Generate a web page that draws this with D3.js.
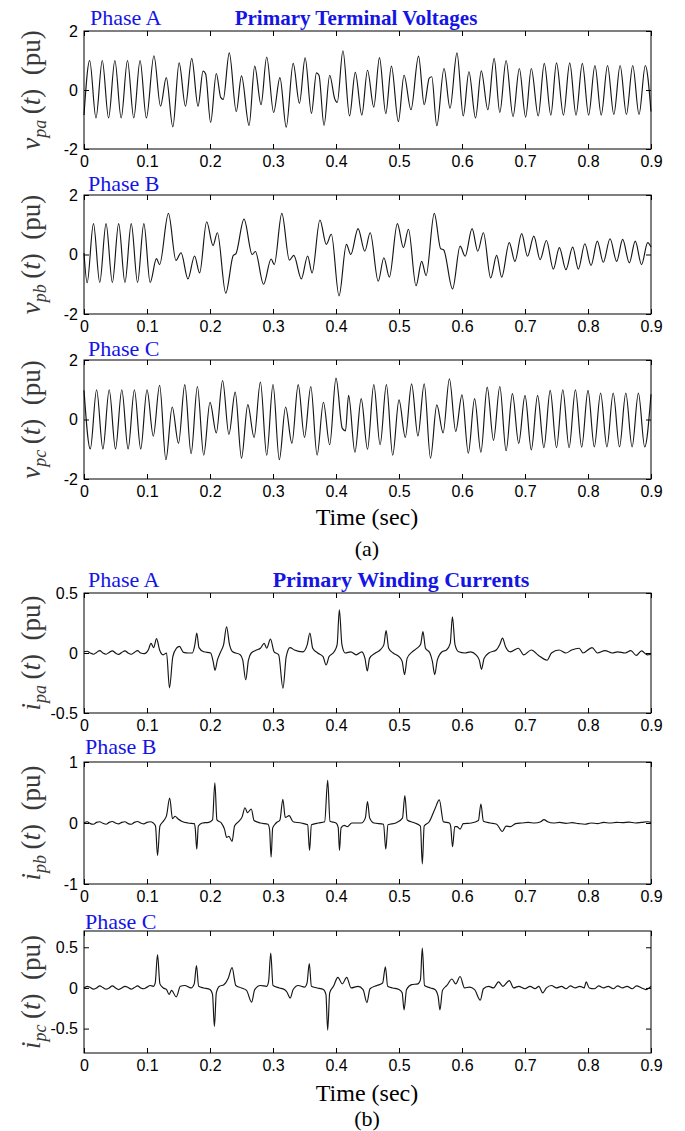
<!DOCTYPE html>
<html>
<head>
<meta charset="utf-8">
<script src="https://cdn.jsdelivr.net/npm/d3@7"></script>
<style>
  body { margin: 0; background: #fff; }
  svg { display: block; }
</style>
</head>
<body>
<svg id="fig" width="685" height="1131"></svg>
<script>
// ---- time axis ----
const timeTicks = [0, 0.1, 0.2, 0.3, 0.4, 0.5, 0.6, 0.7, 0.8, 0.9];
const timeTickLabels = ["0", "0.1", "0.2", "0.3", "0.4", "0.5", "0.6", "0.7", "0.8", "0.9"];

// ---- primary terminal voltages (pu): waveform turning points ----
const vpaTime = [0, 0.009, 0.019, 0.029, 0.039, 0.049, 0.059, 0.069, 0.079, 0.089, 0.099,
  0.111, 0.1215, 0.1306, 0.141, 0.151, 0.161, 0.171, 0.181, 0.189, 0.193, 0.201, 0.210, 0.217, 0.221,
  0.2306, 0.2417, 0.250, 0.262, 0.271, 0.281, 0.290, 0.301, 0.311, 0.321, 0.332, 0.342, 0.351, 0.361,
  0.369, 0.373, 0.381, 0.390, 0.398, 0.402, 0.411, 0.4215, 0.4306, 0.441, 0.450, 0.460, 0.469, 0.479,
  0.488, 0.499, 0.508, 0.519, 0.531, 0.540, 0.548, 0.552, 0.560, 0.5715, 0.581, 0.592, 0.602, 0.611,
  0.6215, 0.6306, 0.641, 0.651, 0.660, 0.670, 0.681, 0.691, 0.701, 0.710, 0.721, 0.7306, 0.741, 0.750,
  0.761, 0.771, 0.781, 0.791, 0.801, 0.811, 0.821, 0.831, 0.841, 0.851, 0.861, 0.871, 0.881, 0.891, 0.9];
const vpaValue = [-0.85, 1.0, -0.95, 1.0, -0.95, 1.0, -0.95, 1.0, -0.95, 1.0, -0.95,
  1.16, -0.55, 0.42, -1.25, 0.92, -0.55, 1.07, -0.55, 0.64, 0.55, -1.1, 0.56, -0.25, -0.32,
  1.26, -0.73, 0.48, -1.2, 0.81, -0.5, 1.12, -0.76, 0.42, -1.26, 0.9, -0.45, 1.09, -0.79,
  0.58, 0.5, -1.2, 0.5, -0.3, -0.42, 1.33, -0.88, 0.6, -0.85, 0.67, -0.58, 1.1, -0.8,
  0.81, -1.07, 0.5, -0.67, 1.15, -0.5, 0.4, 0.45, -1.21, 0.73, -0.62, 1.26, -0.88, 0.62,
  -0.95, 0.65, -0.67, 1.07, -0.76, 1.0, -0.9, 0.73, -0.92, 0.73, -0.88, 0.9, -0.85, 0.92,
  -0.85, 0.92, -0.85, 0.9, -0.85, 0.83, -0.85, 0.83, -0.83, 0.83, -0.83, 0.83, -0.83, 0.83, -0.73];

const vpbTime = [0, 0.005, 0.015, 0.025, 0.035, 0.045, 0.055, 0.065, 0.075, 0.085, 0.095, 0.105,
  0.115, 0.120, 0.134, 0.146, 0.154, 0.165, 0.1755, 0.1835, 0.1947, 0.2048, 0.2117, 0.225, 0.237, 0.241,
  0.254, 0.267, 0.272, 0.285, 0.297, 0.302, 0.314, 0.326, 0.333, 0.345, 0.355, 0.362, 0.3745, 0.3846,
  0.3926, 0.4048, 0.4165, 0.4234, 0.435, 0.4457, 0.4543, 0.467, 0.476, 0.4847, 0.4974, 0.507, 0.515,
  0.527, 0.536, 0.543, 0.556, 0.566, 0.571, 0.585, 0.597, 0.605, 0.616, 0.625, 0.634, 0.6455, 0.655,
  0.663, 0.675, 0.684, 0.6947, 0.704, 0.714, 0.724, 0.734, 0.745, 0.7545, 0.765, 0.7757, 0.7847, 0.795,
  0.8048, 0.8148, 0.8243, 0.835, 0.8455, 0.855, 0.8656, 0.875, 0.885, 0.8947, 0.9];
const vpbValue = [0.05, -0.95, 1.04, -0.94, 1.04, -0.94, 1.04, -0.94, 1.04, -0.94, 1.04, -0.94,
  -0.14, -0.34, 1.38, -0.2, 0.06, -0.82, -0.05, -0.62, 1.1, 0.3, 0.73, -1.3, -0.03, 0.02,
  1.19, 0.0, 0.1, -1.0, -0.15, -0.34, 1.38, -0.19, -0.03, -0.82, -0.05, -0.62, 1.16, 0.34,
  0.68, -1.39, 0.34, 0.0, 0.87, 0.11, 0.73, -0.9, -0.11, -0.76, 1.04, 0.23, 0.85,
  -1.05, -0.23, -0.71, 1.38, 0.2, 0.15, -1.16, 0.28, -0.06, 0.87, 0.11, 0.73, -0.79, -0.03,
  -0.76, 0.4, -0.23, 0.7, -0.06, 0.62, -0.17, 0.47, -0.49, 0.23, -0.51, 0.25, -0.49, 0.36,
  -0.37, 0.45, -0.26, 0.53, -0.23, 0.51, -0.28, 0.45, -0.34, 0.4, 0.25];

const vpcTime = [0, 0.01, 0.02, 0.03, 0.04, 0.05, 0.06, 0.07, 0.08, 0.09, 0.10, 0.11, 0.12, 0.13,
  0.14, 0.15, 0.16, 0.17, 0.18, 0.19, 0.20, 0.21, 0.22, 0.23, 0.24, 0.25, 0.26, 0.27, 0.28, 0.29,
  0.30, 0.31, 0.32, 0.33, 0.34, 0.35, 0.36, 0.37, 0.38, 0.39, 0.40, 0.41, 0.415, 0.42, 0.43, 0.44,
  0.45, 0.46, 0.47, 0.48, 0.49, 0.50, 0.51, 0.52, 0.53, 0.54, 0.55, 0.56, 0.57, 0.58, 0.59, 0.60,
  0.61, 0.62, 0.63, 0.64, 0.65, 0.66, 0.67, 0.68, 0.69, 0.70, 0.71, 0.72, 0.73, 0.74, 0.75, 0.76,
  0.77, 0.78, 0.79, 0.80, 0.81, 0.82, 0.83, 0.84, 0.85, 0.86, 0.87, 0.88, 0.89, 0.9];
const vpcValue = [0.98, -0.99, 1.0, -0.99, 1.0, -0.99, 1.0, -0.99, 1.0, -0.99, 1.0, -0.56, 1.15, -1.35,
  0.42, -0.8, 1.17, -1.15, 1.11, -1.2, 0.58, -0.45, 1.31, -0.5, 0.92, -1.3, 0.5, -0.6, 1.26, -1.2,
  1.17, -1.35, 0.42, -0.8, 1.17, -0.6, 1.11, -1.2, 0.58, -0.85, 1.39, -0.3, -0.38, 0.81, -1.1, 0.7,
  -1.0, 1.17, -0.85, 1.17, -1.2, 0.66, -0.6, 1.2, -0.55, 1.2, -1.3, 0.49, -0.45, 1.37, -0.4, 0.83,
  -1.13, 0.7, -1.1, 1.09, -0.7, 1.11, -1.05, 0.87, -0.8, 0.81, -1.02, 0.81, -0.95, 0.98, -0.95, 1.0,
  -0.95, 1.0, -0.93, 0.98, -0.92, 0.89, -0.92, 0.89, -0.92, 0.89, -0.92, 0.89, -0.92, 0.85];

// ---- primary winding currents (pu) ----
const ipaTime = [0, 0.005, 0.01, 0.015, 0.02, 0.025, 0.03, 0.035, 0.04, 0.045, 0.05, 0.055, 0.06, 0.065,
  0.07, 0.075, 0.08, 0.085, 0.09, 0.096, 0.102, 0.1064, 0.1105, 0.1152, 0.12, 0.1257, 0.131, 0.1357,
  0.141, 0.1468, 0.1515, 0.158, 0.166, 0.172, 0.176, 0.179, 0.1825, 0.19, 0.201, 0.205, 0.208, 0.2117,
  0.217, 0.2216, 0.2263, 0.231, 0.236, 0.248, 0.252, 0.2567, 0.261, 0.2655, 0.274, 0.28, 0.286, 0.29,
  0.296, 0.3018, 0.309, 0.3158, 0.321, 0.327, 0.334, 0.3474, 0.3544, 0.3585, 0.363, 0.371, 0.3795,
  0.3842, 0.389, 0.397, 0.4018, 0.4053, 0.4094, 0.4146, 0.4234, 0.432, 0.441, 0.446, 0.4497, 0.4532,
  0.4626, 0.47, 0.476, 0.4795, 0.4836, 0.4906, 0.5, 0.505, 0.5088, 0.5129, 0.521, 0.5287, 0.5345, 0.538,
  0.542, 0.549, 0.553, 0.5567, 0.5608, 0.5684, 0.5754, 0.5813, 0.5848, 0.5889, 0.5947, 0.6047, 0.6135,
  0.6222, 0.6275, 0.631, 0.635, 0.6427, 0.6544, 0.66, 0.6643, 0.669, 0.6766, 0.6895, 0.698, 0.71,
  0.7216, 0.735, 0.742, 0.754, 0.765, 0.774, 0.786, 0.792, 0.8064, 0.815, 0.827, 0.8386, 0.847, 0.859,
  0.868, 0.8766, 0.885, 0.894, 0.9];
const ipaValue = [0.01, 0.015, 0.0, -0.01, 0.005, 0.02, 0.0, -0.01, 0.005, 0.018, 0.0, -0.012, 0.005, 0.018,
  0.0, -0.01, 0.005, 0.02, 0.0, -0.005, 0.025, 0.08, 0.045, 0.12, 0.025, -0.015, 0.0, -0.29,
  -0.03, 0.04, 0.055, 0.005, 0.0, 0.0, 0.07, 0.167, 0.045, 0.01, 0.0, -0.07, -0.144, -0.06,
  0.01, 0.07, 0.218, 0.07, 0.01, -0.015, -0.06, -0.223, -0.06, 0.0, 0.025, 0.04, 0.08, 0.04,
  0.116, 0.01, -0.015, -0.294, -0.03, 0.045, 0.025, 0.01, 0.07, 0.167, 0.04, 0.0, -0.03,
  -0.1, -0.03, 0.01, 0.07, 0.359, 0.07, 0.0, 0.01, -0.015, 0.01, -0.045, -0.15, -0.045,
  0.0, 0.025, 0.07, 0.186, 0.04, 0.0, -0.03, -0.07, -0.18, -0.045, 0.01, 0.04, 0.075, 0.178,
  0.04, 0.0, -0.07, -0.18, -0.06, 0.01, 0.025, 0.08, 0.302, 0.07, 0.01, 0.0, 0.01,
  -0.015, -0.06, -0.136, -0.045, 0.0, 0.025, 0.07, 0.124, 0.055, 0.01, 0.04, -0.015, 0.025,
  -0.02, -0.06, 0.0, 0.025, 0.0, 0.025, 0.04, 0.0, 0.045, 0.0, 0.02, 0.0, 0.01, 0.0,
  0.02, -0.02, 0.018, -0.015, -0.01];

const ipbTime = [0, 0.005, 0.01, 0.015, 0.02, 0.025, 0.03, 0.035, 0.04, 0.045, 0.05, 0.055, 0.06, 0.065,
  0.07, 0.075, 0.08, 0.085, 0.09, 0.095, 0.1, 0.105, 0.11, 0.1135, 0.1167, 0.1205, 0.126, 0.131, 0.136,
  0.1405, 0.1445, 0.149, 0.155, 0.165, 0.175, 0.1765, 0.179, 0.1815, 0.188, 0.198, 0.204, 0.2077, 0.211,
  0.218, 0.223, 0.2264, 0.23, 0.235, 0.239, 0.245, 0.251, 0.2555, 0.2596, 0.2655, 0.27, 0.28, 0.292,
  0.2945, 0.297, 0.2995, 0.305, 0.311, 0.3156, 0.3195, 0.3256, 0.332, 0.345, 0.355, 0.358, 0.361, 0.372,
  0.382, 0.3868, 0.3905, 0.4, 0.4035, 0.4055, 0.408, 0.413, 0.418, 0.425, 0.44, 0.4465, 0.45, 0.4535,
  0.46, 0.4755, 0.479, 0.4825, 0.495, 0.5055, 0.5093, 0.513, 0.525, 0.534, 0.537, 0.54, 0.548, 0.557,
  0.564, 0.5705, 0.58, 0.582, 0.585, 0.5885, 0.592, 0.597, 0.602, 0.615, 0.626, 0.63, 0.634, 0.645,
  0.655, 0.664, 0.67, 0.677, 0.685, 0.695, 0.705, 0.715, 0.725, 0.73, 0.736, 0.745, 0.755, 0.765,
  0.775, 0.785, 0.795, 0.805, 0.815, 0.825, 0.835, 0.845, 0.855, 0.865, 0.875, 0.885, 0.895, 0.9];
const ipbValue = [0.0, 0.02, -0.01, -0.02, 0.01, 0.02, -0.005, -0.02, 0.01, 0.025, 0.0, -0.015, 0.01, 0.02,
  -0.01, -0.02, 0.01, 0.025, 0.0, -0.015, 0.01, 0.02, 0.0, -0.05, -0.535, -0.05, 0.03, 0.12, 0.41,
  0.07, 0.11, 0.07, 0.03, 0.0, -0.01, -0.08, -0.43, -0.05, 0.0, 0.01, 0.05, 0.66, 0.05,
  0.0, -0.1, -0.235, -0.22, -0.3, -0.05, 0.02, 0.1, 0.25, 0.17, 0.23, 0.04, 0.0, -0.02,
  -0.1, -0.56, -0.08, 0.0, 0.05, 0.39, 0.09, 0.12, 0.02, 0.0, -0.03, -0.45, -0.03, 0.0,
  0.02, 0.7, 0.03, 0.0, -0.07, -0.45, -0.08, -0.04, -0.06, 0.0, 0.0, 0.08, 0.35, 0.08,
  0.0, -0.02, -0.43, -0.03, 0.0, 0.08, 0.45, 0.05, 0.0, -0.05, -0.67, -0.05, 0.02, 0.23,
  0.38, 0.02, 0.0, -0.05, -0.39, -0.06, -0.06, -0.1, -0.01, 0.0, 0.04, 0.31, 0.03, 0.0,
  -0.02, -0.14, -0.05, -0.06, -0.01, 0.0, 0.01, 0.0, 0.02, 0.055, 0.02, 0.0, 0.01, -0.005,
  0.005, -0.01, -0.02, 0.0, -0.01, 0.01, 0.0, 0.01, 0.005, 0.015, 0.0, 0.01, 0.02, 0.01];

const ipcTime = [0, 0.005, 0.01, 0.015, 0.02, 0.025, 0.03, 0.035, 0.04, 0.045, 0.05, 0.055, 0.06, 0.065,
  0.07, 0.075, 0.08, 0.085, 0.09, 0.095, 0.1, 0.105, 0.11, 0.113, 0.1167, 0.1205, 0.126, 0.131, 0.135,
  0.139, 0.1464, 0.153, 0.16, 0.17, 0.175, 0.1785, 0.182, 0.19, 0.2, 0.204, 0.207, 0.21, 0.215, 0.222,
  0.229, 0.235, 0.241, 0.25, 0.258, 0.266, 0.271, 0.28, 0.29, 0.293, 0.2964, 0.3, 0.31, 0.318, 0.322,
  0.3273, 0.332, 0.34, 0.35, 0.354, 0.3576, 0.361, 0.37, 0.38, 0.384, 0.3868, 0.39, 0.396, 0.403, 0.41,
  0.417, 0.424, 0.435, 0.443, 0.449, 0.454, 0.465, 0.474, 0.4784, 0.482, 0.49, 0.5, 0.505, 0.508, 0.512,
  0.52, 0.53, 0.534, 0.537, 0.5405, 0.55, 0.557, 0.562, 0.565, 0.569, 0.576, 0.584, 0.59, 0.597, 0.604,
  0.612, 0.62, 0.629, 0.634, 0.642, 0.65, 0.658, 0.665, 0.675, 0.682, 0.69, 0.7, 0.708, 0.716, 0.722,
  0.728, 0.734, 0.742, 0.75, 0.758, 0.765, 0.772, 0.78, 0.787, 0.794, 0.797, 0.802, 0.81, 0.817, 0.825,
  0.832, 0.84, 0.847, 0.855, 0.862, 0.87, 0.877, 0.885, 0.892, 0.9];
const ipcValue = [0.0, 0.02, 0.005, -0.015, 0.0, 0.025, 0.005, -0.015, 0.0, 0.025, 0.0, -0.02, 0.0, 0.02,
  0.005, -0.015, 0.005, 0.025, 0.0, -0.01, 0.01, 0.03, 0.02, 0.06, 0.41, 0.05, 0.0, -0.02, -0.08,
  -0.03, -0.11, 0.02, 0.03, 0.0, 0.05, 0.275, 0.02, 0.0, -0.02, -0.08, -0.475, -0.06, 0.02, 0.04,
  0.12, 0.25, 0.03, 0.0, -0.03, -0.175, -0.02, 0.03, 0.02, 0.08, 0.43, 0.03, 0.0, -0.02, -0.05,
  -0.125, -0.02, 0.03, 0.01, 0.06, 0.3, 0.02, 0.0, -0.02, -0.08, -0.52, -0.06, 0.02, 0.13, 0.05,
  0.13, 0.0, 0.02, -0.02, -0.18, -0.01, 0.03, 0.06, 0.26, 0.02, 0.0, -0.02, -0.06, -0.27, -0.02,
  0.04, 0.05, 0.1, 0.49, 0.03, 0.0, -0.02, -0.1, -0.27, -0.03, 0.03, 0.11, 0.05, 0.14, 0.0,
  0.01, -0.02, -0.15, -0.01, 0.02, 0.0, 0.075, 0.02, 0.09, 0.0, 0.02, -0.01, 0.02, -0.01, 0.02,
  -0.06, 0.0, 0.03, 0.0, 0.02, -0.01, 0.025, 0.0, 0.02, 0.0, 0.075, 0.0, -0.01, 0.025, 0.0,
  0.02, -0.01, 0.025, 0.0, 0.02, -0.01, 0.025, 0.0, -0.02, 0.02];

// ---- panel layout ----
const panels = [
  { sym: "v", sub: "pa", time: vpaTime, value: vpaValue, top: 31,  bottom: 149, domain: [-2, 2], ticks: [-2, 0, 2], tickLabels: ["-2", "0", "2"], phase: "Phase A", phaseX: 90, phaseY: 25 },
  { sym: "v", sub: "pb", time: vpbTime, value: vpbValue, top: 195, bottom: 314, domain: [-2, 2], ticks: [-2, 0, 2], tickLabels: ["-2", "0", "2"], phase: "Phase B", phaseX: 88, phaseY: 191 },
  { sym: "v", sub: "pc", time: vpcTime, value: vpcValue, top: 360, bottom: 479, domain: [-2, 2], ticks: [-2, 0, 2], tickLabels: ["-2", "0", "2"], phase: "Phase C", phaseX: 88, phaseY: 356 },
  { sym: "i", sub: "pa", time: ipaTime, value: ipaValue, top: 593, bottom: 713, domain: [-0.5, 0.5], ticks: [-0.5, 0, 0.5], tickLabels: ["-0.5", "0", "0.5"], phase: "Phase A", phaseX: 88, phaseY: 587 },
  { sym: "i", sub: "pb", time: ipbTime, value: ipbValue, top: 762, bottom: 884, domain: [-1, 1], ticks: [-1, 0, 1], tickLabels: ["-1", "0", "1"], phase: "Phase B", phaseX: 85, phaseY: 754 },
  { sym: "i", sub: "pc", time: ipcTime, value: ipcValue, top: 931, bottom: 1053, domain: [-0.8, 0.7], ticks: [-0.5, 0, 0.5], tickLabels: ["-0.5", "0", "0.5"], phase: "Phase C", phaseX: 85, phaseY: 929 }
];

const BLUE = "#1414e6";
const SERIF = "'Liberation Serif', 'Times New Roman', serif";
const SANS = "'Liberation Sans', Arial, sans-serif";

const svg = d3.select("#fig");
svg.append("rect").attr("width", 685).attr("height", 1131).attr("fill", "#fff");

const x = d3.scaleLinear().domain([0, 0.9]).range([84, 651]);

panels.forEach(p => {
  const y = d3.scaleLinear().domain(p.domain).range([p.bottom, p.top]);
  const g = svg.append("g");

  // waveform
  const pts = p.time.map((t, i) => [t, p.value[i]]);
  g.append("path")
    .attr("d", d3.line().x(d => x(d[0])).y(d => y(d[1])).curve(d3.curveMonotoneX)(pts))
    .attr("fill", "none")
    .attr("stroke", "#151515")
    .attr("stroke-width", 1.15)
    .attr("stroke-linejoin", "round");

  // axes with inward ticks on all four sides
  const styleAxis = sel => {
    sel.select(".domain").remove();
    sel.selectAll(".tick line").attr("stroke", "#000").attr("stroke-width", 1);
    sel.selectAll("text").attr("font-family", SANS).attr("font-size", 16).attr("fill", "#000");
  };
  g.append("g").attr("transform", `translate(0,${p.bottom})`)
    .call(d3.axisBottom(x).tickValues(timeTicks).tickFormat((d, i) => timeTickLabels[i])
      .tickSizeInner(-5).tickSizeOuter(0).tickPadding(7))
    .call(styleAxis);
  g.append("g").attr("transform", `translate(0,${p.top})`)
    .call(d3.axisTop(x).tickValues(timeTicks).tickFormat("").tickSizeInner(-5).tickSizeOuter(0))
    .call(styleAxis);
  g.append("g").attr("transform", `translate(${x(0)},0)`)
    .call(d3.axisLeft(y).tickValues(p.ticks).tickFormat((d, i) => p.tickLabels[i])
      .tickSizeInner(-5).tickSizeOuter(0).tickPadding(6))
    .call(styleAxis);
  g.append("g").attr("transform", `translate(${x(0.9)},0)`)
    .call(d3.axisRight(y).tickValues(p.ticks).tickFormat("").tickSizeInner(-5).tickSizeOuter(0))
    .call(styleAxis);

  // frame
  g.append("rect")
    .attr("x", x(0)).attr("y", p.top)
    .attr("width", x(0.9) - x(0)).attr("height", p.bottom - p.top)
    .attr("fill", "none").attr("stroke", "#000").attr("stroke-width", 1);

  // phase label
  g.append("text")
    .attr("x", p.phaseX).attr("y", p.phaseY)
    .attr("font-family", SERIF).attr("font-size", 22).attr("fill", BLUE)
    .text(p.phase);

  // y-axis label, e.g. v_pa(t) (pu)
  const cy = (p.top + p.bottom) / 2;
  const lab = g.append("text")
    .attr("transform", `translate(40,${cy}) rotate(-90)`)
    .attr("text-anchor", "middle")
    .attr("font-family", SERIF).attr("font-size", 27).attr("fill", "#3a3a3a");
  lab.append("tspan").attr("font-style", "italic").text(p.sym);
  lab.append("tspan").attr("font-style", "italic").attr("font-size", 18).attr("dy", 6).text(p.sub);
  lab.append("tspan").attr("dy", -6).text("\u2009(");
  lab.append("tspan").attr("font-style", "italic").text("t");
  lab.append("tspan").text(")\u2002(pu)");
});

// group titles
svg.append("text").attr("x", 356).attr("y", 25).attr("text-anchor", "middle")
  .attr("font-family", SERIF).attr("font-size", 21).attr("font-weight", "bold").attr("fill", BLUE)
  .text("Primary Terminal Voltages");
svg.append("text").attr("x", 401).attr("y", 587).attr("text-anchor", "middle")
  .attr("font-family", SERIF).attr("font-size", 22).attr("font-weight", "bold").attr("fill", BLUE)
  .text("Primary Winding Currents");

// x-axis titles and sub-figure captions
[[525, "Time (sec)", 24], [556, "(a)", 22], [1101, "Time (sec)", 24], [1126, "(b)", 22]].forEach(([yy, txt, fs]) => {
  svg.append("text").attr("x", 367).attr("y", yy).attr("text-anchor", "middle")
    .attr("font-family", SERIF).attr("font-size", fs).attr("fill", "#000").text(txt);
});
</script>
</body>
</html>
